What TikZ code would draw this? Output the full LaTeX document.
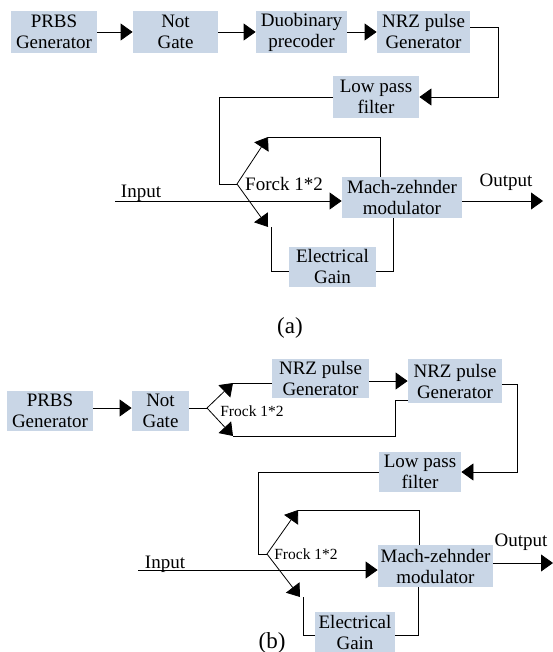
\documentclass[tikz,border=0pt]{standalone}
\usepackage{fontspec}
\setmainfont{Liberation Serif}
\usetikzlibrary{arrows.meta}
\definecolor{boxc}{RGB}{201,214,230}
\begin{document}
\begin{tikzpicture}[x=1pt,y=-1pt,
  blk/.style={fill=boxc, inner sep=0pt, align=center, font=\fontsize{19}{21}\selectfont},
  lbl/.style={inner sep=0pt, anchor=base, font=\fontsize{19}{21}\selectfont},
  slbl/.style={inner sep=0pt, anchor=base, font=\fontsize{15.5}{17}\selectfont},
  captionlbl/.style={inner sep=0pt, anchor=base, font=\fontsize{23}{25}\selectfont},
  arr/.style={-{Triangle[length=12pt,width=17pt]}},
  every path/.style={line width=0.8pt}]
\useasboundingbox (0,0) rectangle (553,652);

% ---------------- panel (a) ----------------
\node[blk, minimum width=86pt, minimum height=42pt] (prbsA) at (54,32) {PRBS\\Generator};
\node[blk, minimum width=85pt, minimum height=42pt] (notA) at (175.5,32) {Not\\Gate};
\node[blk, minimum width=91pt, minimum height=42pt] (duoA) at (301.5,32) {Duobinary\\precoder};
\node[blk, minimum width=93pt, minimum height=42pt] (nrzA) at (423.5,32) {NRZ pulse\\Generator};
\node[blk, minimum width=86pt, minimum height=42pt] (lpfA) at (376,97) {Low pass\\filter};
\node[blk, minimum width=120pt, minimum height=41pt] (mzmA) at (402,197.5) {Mach-zehnder\\modulator};
\node[blk, minimum width=87pt, minimum height=40pt] (egA) at (332.5,267) {Electrical\\Gain};

\draw[arr] (prbsA) -- (notA);
\draw[arr] (notA) -- (duoA);
\draw[arr] (duoA) -- (nrzA);
\coordinate (a1) at (498,27);
\draw[arr] (a1 -| nrzA.east) -- (a1) |- (lpfA.east);
\coordinate (a2) at (219,184);
\coordinate (forkA) at (237,184);
\draw (lpfA.west) -| (a2) -- (forkA);
\coordinate (a3) at (268,137);
\coordinate (a4) at (380,137);
\draw[arr] (forkA) -- (a3);
\draw (a3) -- (a4) -- (a4 |- mzmA.north);
\coordinate (a5) at (268,227);
\coordinate (a6) at (271,227);
\coordinate (a7) at (271,271);
\draw[arr] (forkA) -- (a5);
\draw (a6) -- (a7) -- (a7 -| egA.west);
\coordinate (a8) at (393,271);
\draw (a8 -| egA.east) -- (a8) -- (a8 |- mzmA.south);
\coordinate (inA) at (115,201);
\draw[arr] (inA) -- (inA -| mzmA.west);
\coordinate (outA) at (543,201);
\draw[arr] (outA -| mzmA.east) -- (outA);

\node[lbl] (inAl) at (141,198) {Input};
\node[lbl] (outAl) at (506,186) {Output};
\node[lbl] (forkAl) at (284,190) {Forck 1*2};
\node[captionlbl] (capA) at (290,333) {(a)};

% ---------------- panel (b) ----------------
\node[blk, minimum width=86pt, minimum height=40pt] (prbsB) at (50,411) {PRBS\\Generator};
\node[blk, minimum width=57pt, minimum height=40pt] (notB) at (160.5,411) {Not\\Gate};
\node[blk, minimum width=97pt, minimum height=39pt] (nrz1B) at (320.5,378.5) {NRZ pulse\\Generator};
\node[blk, minimum width=94pt, minimum height=44pt] (nrz2B) at (455,381) {NRZ pulse\\Generator};
\node[blk, minimum width=82pt, minimum height=40pt] (lpfB) at (420,472) {Low pass\\filter};
\node[blk, minimum width=115pt, minimum height=42pt] (mzmB) at (435.5,566) {Mach-zehnder\\modulator};
\node[blk, minimum width=80pt, minimum height=40pt] (egB) at (355,632) {Electrical\\Gain};

\coordinate (b0) at (100,408);
\draw[arr] (b0 -| prbsB.east) -- (b0 -| notB.west);
\coordinate (forkB) at (207,408);
\draw (forkB -| notB.east) -- (forkB);
\coordinate (b1) at (233,383);
\draw[arr] (forkB) -- (b1);
\draw (b1) -- (b1 -| nrz1B.west);
\coordinate (b2) at (233,436);
\coordinate (b3) at (395,436);
\coordinate (b4) at (395,400);
\draw[arr] (forkB) -- (b2);
\draw (b2) -- (b3) -- (b4) -- (b4 -| nrz2B.west);
\coordinate (b5) at (380,381);
\draw[arr] (b5 -| nrz1B.east) -- (b5 -| nrz2B.west);
\coordinate (b6) at (517,384);
\draw[arr] (b6 -| nrz2B.east) -- (b6) |- (lpfB.east);
\coordinate (b7) at (258,554);
\coordinate (forkB2) at (267,554);
\draw (lpfB.west) -| (b7) -- (forkB2);
\coordinate (b8) at (298,510);
\coordinate (b9) at (419,510);
\draw[arr] (forkB2) -- (b8);
\draw (b8) -- (b9) -- (b9 |- mzmB.north);
\coordinate (b10) at (300,597);
\coordinate (b11) at (303,597);
\coordinate (b12) at (303,635);
\draw[arr] (forkB2) -- (b10);
\draw (b11) -- (b12) -- (b12 -| egB.west);
\coordinate (b13) at (418,635);
\draw (b13 -| egB.east) -- (b13) -- (b13 |- mzmB.south);
\coordinate (inB) at (138,570);
\draw[arr] (inB) -- (inB -| mzmB.west);
\coordinate (outB) at (553,563);
\draw[arr] (outB -| mzmB.east) -- (outB);

\node[lbl] (inBl) at (165,568) {Input};
\node[lbl] (outBl) at (521,546) {Output};
\node[slbl] (forkBl) at (252,416) {Frock 1*2};
\node[slbl] (forkB2l) at (306,559) {Frock 1*2};
\node[captionlbl] (capB) at (272,648) {(b)};
\end{tikzpicture}
\end{document}
